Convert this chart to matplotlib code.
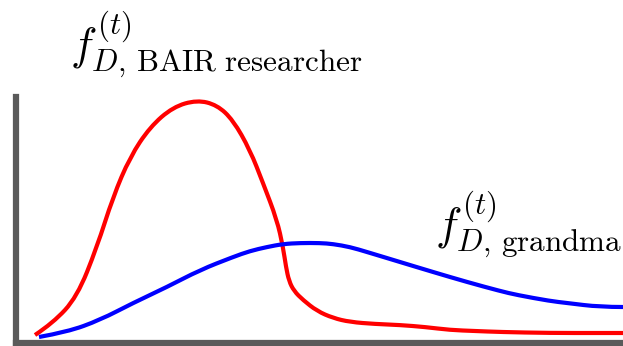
import matplotlib
matplotlib.use("Agg")
import matplotlib.pyplot as plt
from matplotlib.path import Path
from matplotlib.patches import PathPatch

plt.rcParams['mathtext.fontset'] = 'cm'

# curves (x: horizontal position, y: height above the axis)
red_x = [35, 53, 77, 97, 113, 130, 150, 173, 197, 217, 233, 250, 263, 277,
         283, 286, 289, 294, 303, 317, 333, 350, 375, 400, 425, 450, 475, 500, 550, 600, 623]
red_y = [8, 20, 46, 96, 146, 186, 216, 236, 243, 238, 223, 193, 160, 123,
         96, 76, 62, 52, 43, 32, 25, 21, 19, 18, 16, 13, 12, 11, 10, 10, 10]

blue_x = [39, 67, 100, 133, 167, 200, 233, 250, 267, 283, 300, 320, 333, 350, 367, 400,
          433, 467, 500, 517, 550, 567, 600, 623]
blue_y = [6, 11, 23, 40, 56, 73, 86, 92, 96, 99, 100, 100, 99, 96, 91, 81,
          71, 61, 52, 48, 42, 40, 36, 36]

label_researcher = r'$f^{(t)}_{D,\,\mathrm{BAIR\ researcher}}$'
label_grandma = r'$f^{(t)}_{D,\,\mathrm{grandma}}$'


def smooth_path(xs, ys):
    # quadratic bezier through the midpoints, using the read points as controls
    pts = list(zip(xs, ys))
    verts = [pts[0]]
    codes = [Path.MOVETO]
    for i in range(1, len(pts) - 1):
        mid = ((pts[i][0] + pts[i + 1][0]) / 2, (pts[i][1] + pts[i + 1][1]) / 2)
        if i == len(pts) - 2:
            mid = pts[-1]
        verts += [pts[i], mid]
        codes += [Path.CURVE3, Path.CURVE3]
    return Path(verts, codes)


fig = plt.figure(figsize=(6.23, 3.46), dpi=100)
ax = fig.add_axes([16 / 623, 3 / 346, 1 - 16 / 623, (343 - 97) / 346])

for xs, ys, c in [(red_x, red_y, '#ff0000'), (blue_x, blue_y, '#0000ff')]:
    ax.add_patch(PathPatch(smooth_path(xs, ys), facecolor='none', edgecolor=c,
                           linewidth=3, capstyle='butt', joinstyle='round'))

ax.set_xlim(16, 623)
ax.set_ylim(0, 246)
ax.set_xticks([])
ax.set_yticks([])
for side in ['top', 'right']:
    ax.spines[side].set_visible(False)
for side in ['left', 'bottom']:
    ax.spines[side].set_color('#5a5a5a')
    ax.spines[side].set_linewidth(4.5)

fig.text(70 / 623, 1 - 45 / 346, label_researcher, fontsize=32, ha='left', va='center')
fig.text(435 / 623, 1 - 224 / 346, label_grandma, fontsize=32, ha='left', va='center')

fig.savefig('out.png', dpi=100)
